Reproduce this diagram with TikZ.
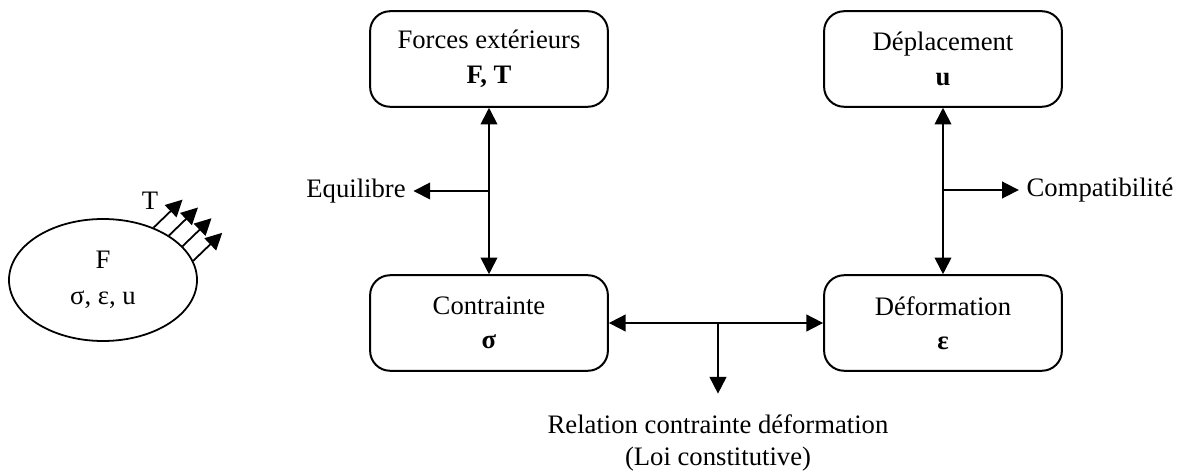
\documentclass[tikz,border=0pt]{standalone}
\usepackage{fontspec}
\setmainfont{Liberation Serif}
\usetikzlibrary{arrows.meta,shapes.geometric}

\tikzset{
  bloc/.style={draw, line width=0.9pt, rounded corners=9pt, minimum width=107pt, minimum height=43pt, align=center},
  fleche/.style={line width=0.8pt, -{Triangle[length=7.5pt,width=7.5pt]}},
  fleches/.style={line width=0.8pt, {Triangle[length=7.5pt,width=7.5pt]}-{Triangle[length=7.5pt,width=7.5pt]}},
}

\begin{document}
\begin{tikzpicture}[x=0.45pt,y=-0.45pt,font=\fontsize{12}{14.5}\selectfont]
  \useasboundingbox (0,0) rectangle (1183,474);

  % le solide
  \node[draw, ellipse, line width=0.8pt, minimum width=84.6pt, minimum height=54.9pt, align=center] (solide) at (103,280) {F\\[1.5pt]σ, ε, u};
  \foreach \a in {46,34,23,12}
    \draw[fleche] (solide.\a) -- ++(29,-28);
  \node (T) at (150,201) {T};

  % les quatre blocs
  \node[bloc] (forces) at (489,59) {Forces extérieurs\\[1pt]\textbf{F, T}};
  \node[bloc] (deplac) at (943,59) {Déplacement\\[1pt]\textbf{u}};
  \node[bloc] (contr) at (489,323) {Contrainte\\[1pt]\textbf{σ}};
  \node[bloc] (deform) at (943,323) {Déformation\\[1pt]\textbf{ε}};

  \draw[fleches] (forces) -- (contr);
  \draw[fleches] (deplac) -- (deform);
  \draw[fleches] (contr) -- (deform);

  % les relations
  \coordinate (eq) at (489,191);
  \coordinate (co) at (943,190);
  \coordinate (branche) at (718,323);
  \node (equi) at (356,191) {Equilibre};
  \node (compat) at (1100,190) {Compatibilité};
  \node[anchor=north, align=center] (rel) at (718,407) {Relation contrainte déformation\\(Loi constitutive)};

  \draw[fleche] (eq) -- (equi);
  \draw[fleche] (co) -- (compat);
  \draw[fleche, shorten >=6pt] (branche) -- (rel.north);
\end{tikzpicture}
\end{document}
